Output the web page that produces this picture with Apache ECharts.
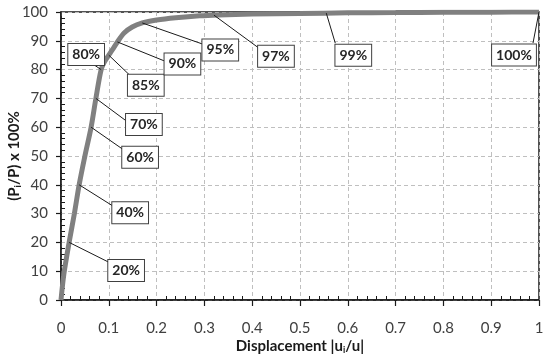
<!DOCTYPE html>
<html>
<head>
<meta charset="utf-8">
<script src="https://cdn.jsdelivr.net/npm/echarts@6/dist/echarts.min.js"></script>
<style>
  html, body { margin: 0; padding: 0; background: #fff; }
  #chart { width: 543px; height: 361px; }
</style>
</head>
<body>
<div id="chart"></div>
<script>
// load-displacement curve
const displacement = [0, 0.006, 0.017, 0.028, 0.038, 0.05, 0.063, 0.073, 0.084, 0.092, 0.1, 0.108, 0.118, 0.132, 0.149, 0.17, 0.2, 0.24, 0.29, 0.33, 0.4, 0.5, 0.6, 0.7, 0.8, 0.9, 1]
const loadPct = [0, 9, 20, 30, 40, 50, 60, 70, 80, 83, 85, 87, 89.6, 92.7, 94.8, 96.2, 97.2, 98, 98.7, 99, 99.3, 99.5, 99.7, 99.8, 99.9, 99.95, 100]

// annotated points on the curve
const noteX = [0.017, 0.038, 0.063, 0.073, 0.084, 0.1, 0.118, 0.17, 0.32, 0.555, 1]
const noteY = [20, 40, 60, 70, 80, 85, 89.6, 96.2, 98.9, 99.6, 100]
const noteText = ['20%', '40%', '60%', '70%', '80%', '85%', '90%', '95%', '97%', '99%', '100%']

// where each label box sits (px from its point) and where its leader line ends
const boxOffset = [[57, 28], [51, 28], [49, 30], [48, 26], [-15, -15], [37, 30], [65, 22], [78, 27], [62, 41], [27, 42], [-25, 43]]
const leaderEnd = [[40, 20], [35, 22], [33, 23], [31, 23], [-12, -8], [22, 21], [47, 19], [60, 21], [45, 33], [9, 30], [-6, 31]]

const FONT = 'Lato, "Open Sans", sans-serif'
const INK = '#1a1a1a'

let nameStyle = {
  fontFamily: FONT,
  fontSize: 15,
  fontWeight: 'bold',
  color: INK,
  rich: { sub: { fontFamily: FONT, fontSize: 9, fontWeight: 'bold', verticalAlign: 'bottom', padding: [8, 0, 0, 0], color: INK } }
}
let gridLine = { show: true, lineStyle: { color: '#bfbfbf', type: [4, 3], width: 1 } }

// second copy of each axis only carries the inside minor ticks
let minorOnly = (extra) => Object.assign({
  type: 'value',
  axisLine: { show: false },
  axisTick: { show: false, inside: true },
  minorTick: { show: true, splitNumber: 5, length: 4, lineStyle: { color: INK, width: 1 } },
  axisLabel: { show: false },
  splitLine: { show: false }
}, extra)

let myChart = echarts.init(document.getElementById('chart'))
let option = {
  animation: false,
  textStyle: { fontFamily: FONT },
  grid: {
    left: 61,
    right: 4,
    top: 12,
    bottom: 61,
    containLabel: false,
    outerBoundsMode: 'none',
    show: true,
    borderColor: INK,
    borderWidth: 1.5
  },
  xAxis: [{
    type: 'value',
    min: 0,
    max: 1,
    interval: 0.1,
    name: 'Displacement |u{sub|i}/u|',
    nameLocation: 'middle',
    nameGap: 38,
    nameMoveOverlap: false,
    nameTextStyle: nameStyle,
    axisLine: { show: true, lineStyle: { color: INK, width: 1.5 } },
    axisTick: { show: true, length: 6, lineStyle: { color: INK, width: 1.2 } },
    axisLabel: {
      fontSize: 15,
      color: '#404040',
      margin: 21,
      formatter: (v) => (v === 0 || v === 1) ? String(v) : v.toFixed(1)
    },
    splitLine: gridLine
  }, minorOnly({ min: 0, max: 1, interval: 0.1, position: 'bottom' })],
  yAxis: [{
    type: 'value',
    min: 0,
    max: 100,
    interval: 10,
    name: '(P{sub|i}/P) x 100%',
    nameLocation: 'middle',
    nameGap: 38,
    nameMoveOverlap: false,
    nameTextStyle: nameStyle,
    axisLine: { show: true, lineStyle: { color: INK, width: 1.5 } },
    axisTick: { show: true, length: 5, lineStyle: { color: INK, width: 1.2 } },
    axisLabel: { fontSize: 15, color: '#404040', margin: 13 },
    splitLine: gridLine
  }, minorOnly({ min: 0, max: 100, interval: 10, position: 'left' })],
  series: [{
    type: 'line',
    smooth: 0.3,
    showSymbol: false,
    lineStyle: { color: '#808080', width: 5 },
    data: displacement.map((x, i) => [x, loadPct[i]]),
    z: 3
  }, {
    type: 'custom',
    clip: false,
    z: 5,
    data: noteX.map((x, i) => [x, noteY[i]]),
    renderItem: (params, api) => {
      let i = params.dataIndex
      let p = api.coord([api.value(0), api.value(1)])
      let bo = boxOffset[i]
      let le = leaderEnd[i]
      return {
        type: 'group',
        children: [{
          type: 'line',
          shape: { x1: p[0], y1: p[1], x2: p[0] + le[0], y2: p[1] + le[1] },
          style: { stroke: INK, lineWidth: 1 }
        }, {
          type: 'text',
          x: p[0] + bo[0],
          y: p[1] + bo[1],
          style: {
            text: noteText[i],
            align: 'center',
            verticalAlign: 'middle',
            font: 'bold 14px ' + FONT,
            fill: '#262626',
            backgroundColor: '#fff',
            borderColor: '#404040',
            borderWidth: 1,
            padding: [4, 4, 3, 4]
          }
        }]
      }
    }
  }]
}
myChart.setOption(option)
</script>
</body>
</html>
